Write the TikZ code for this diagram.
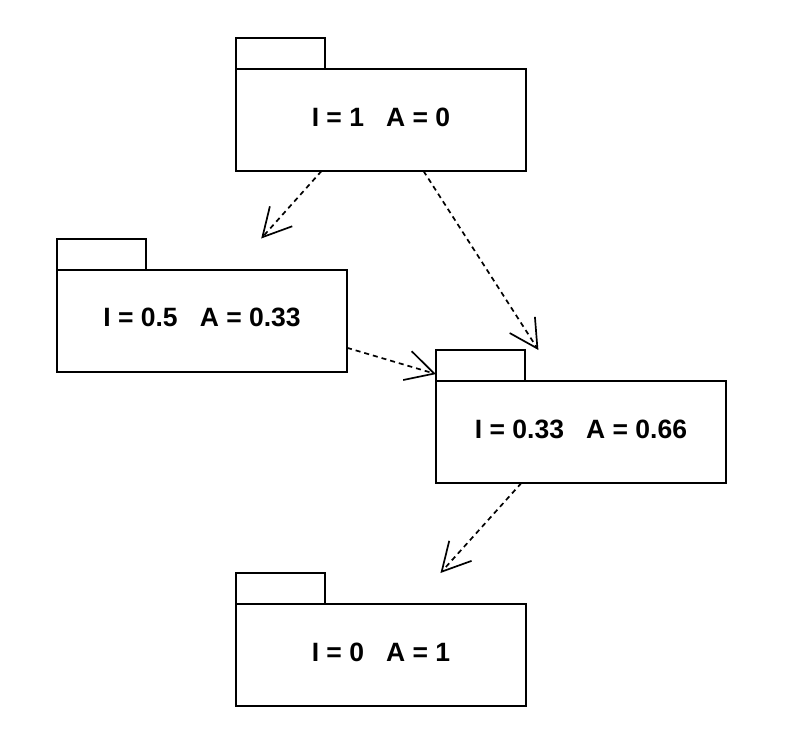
\documentclass[tikz,border=0pt]{standalone}
\usepackage{fontspec}
\setmainfont{Liberation Sans}
\usetikzlibrary{arrows.meta}
\tikzset{
  pkgbox/.style={draw=none, inner sep=0pt, outer sep=0pt, minimum width=290pt, minimum height=133pt},
  tabbox/.style={draw=black, line width=2pt, inner sep=0pt, outer sep=0pt, minimum width=89pt, minimum height=31pt},
  bodybox/.style={draw=black, line width=2pt, inner sep=0pt, outer sep=0pt, minimum width=290pt, minimum height=102pt},
  lbl/.style={font=\fontsize{26.5}{30}\selectfont\bfseries, inner sep=0pt},
  dep/.style={line width=1.7pt, dash pattern=on 5pt off 4pt,
    -{Straight Barb[length=28pt,width=30pt,line width=1.7pt]}}
}
\begin{document}
\begin{tikzpicture}[x=1pt,y=-1pt]
\useasboundingbox[fill=white] (0,0) rectangle (786,730);
% packages
\node[pkgbox] (p1) at (381,104.5) {};
\node[pkgbox] (p2) at (202,305) {};
\node[pkgbox] (p3) at (581,416.5) {};
\node[pkgbox] (p4) at (381,639.5) {};
\foreach \p in {p1,p2,p3,p4}{
  \node[tabbox, anchor=north west] (\p tab) at (\p.north west) {};
  \node[bodybox, anchor=south] (\p body) at (\p.south) {};
}
\node[lbl] (l1) at ([yshift=3pt]p1body.center) {I = 1\ \ \ A = 0};
\node[lbl] (l2) at ([yshift=3pt]p2body.center) {I = 0.5\ \ \ A = 0.33};
\node[lbl] (l3) at ([yshift=3pt]p3body.center) {I = 0.33\ \ \ A = 0.66};
\node[lbl] (l4) at ([yshift=3pt]p4body.center) {I = 0\ \ \ A = 1};
% dependencies
\draw[dep] (p1) -- (p2);
\draw[dep] (p1) -- (p3);
\draw[dep] (p2) -- (p3);
\draw[dep] (p3) -- (p4);
\end{tikzpicture}
\end{document}
